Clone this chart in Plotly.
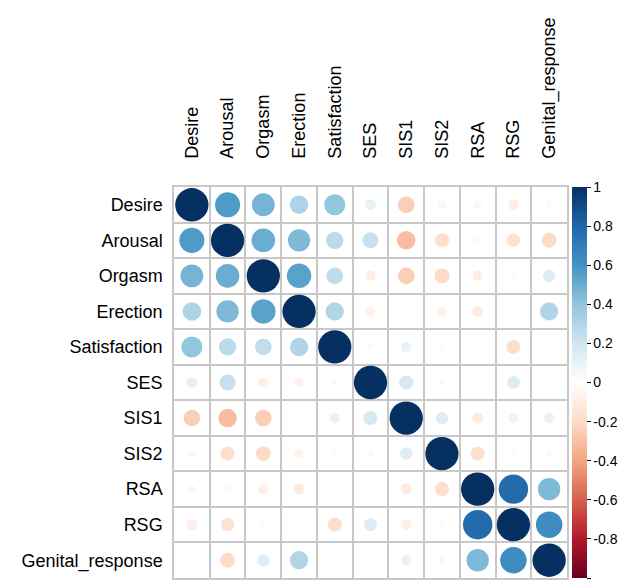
import numpy as np
import plotly.graph_objects as go

labels = ["Desire", "Arousal", "Orgasm", "Erection", "Satisfaction", "SES",
          "SIS1", "SIS2", "RSA", "RSG", "Genital_response"]

desire       = [1.00, 0.57, 0.47, 0.31, 0.40, 0.11, -0.25, 0.05, -0.05, -0.10, 0.03]
arousal      = [0.57, 1.00, 0.50, 0.45, 0.27, 0.23, -0.31, -0.18, -0.04, -0.16, -0.20]
orgasm       = [0.47, 0.50, 1.00, 0.54, 0.25, -0.09, -0.25, -0.20, -0.09, -0.03, 0.14]
erection     = [0.31, 0.45, 0.54, 1.00, 0.30, -0.08, 0.01, -0.08, -0.11, 0.01, 0.30]
satisfaction = [0.40, 0.27, 0.25, 0.30, 1.00, -0.04, 0.10, -0.03, -0.02, -0.18, 0.01]
ses          = [0.11, 0.23, -0.09, -0.08, -0.04, 1.00, 0.18, 0.04, 0.02, 0.15, 0.00]
sis1         = [-0.25, -0.31, -0.25, 0.01, 0.10, 0.18, 1.00, 0.14, -0.11, -0.09, 0.10]
sis2         = [0.05, -0.18, -0.20, -0.08, -0.03, 0.04, 0.14, 1.00, -0.18, -0.03, 0.04]
rsa          = [-0.05, -0.04, -0.09, -0.11, -0.02, 0.02, -0.11, -0.18, 1.00, 0.78, 0.45]
rsg          = [-0.10, -0.16, -0.03, 0.01, -0.18, 0.15, -0.09, -0.03, 0.78, 1.00, 0.63]
genital      = [0.03, -0.20, 0.14, 0.30, 0.01, 0.00, 0.10, 0.04, 0.45, 0.63, 1.00]

rows = [desire, arousal, orgasm, erection, satisfaction, ses, sis1, sis2, rsa, rsg, genital]

cb_ticks = [1, 0.8, 0.6, 0.4, 0.2, 0, -0.2, -0.4, -0.6, -0.8, -1]
cb_text = ["1", "0.8", "0.6", "0.4", "0.2", "0", "-0.2", "-0.4", "-0.6", "-0.8", "-1"]

rdbu = ["#67001F", "#B2182B", "#D6604D", "#F4A582", "#FDDBC7", "#FFFFFF",
        "#D1E5F0", "#92C5DE", "#4393C3", "#2166AC", "#053061"]
colorscale = [[i / 10, c] for i, c in enumerate(rdbu)]

M = np.array(rows)
n = len(labels)
idx = list(range(n))
xs, ys, vs = [], [], []
for i in range(n):
    for j in range(n):
        xs.append(j)
        ys.append(i)
        vs.append(M[i, j])
vs = np.array(vs)
sizes = 33.3 * np.sqrt(np.abs(vs))

fig = go.Figure()
fig.add_trace(go.Scatter(
    x=xs, y=ys, mode="markers",
    marker=dict(
        size=sizes, color=vs, cmin=-1, cmax=1, colorscale=colorscale,
        line=dict(width=0), opacity=1,
        colorbar=dict(
            x=1.0127, xanchor="left", xpad=0, y=0.5, yanchor="middle", ypad=0,
            len=1, lenmode="fraction", thickness=15, thicknessmode="pixels",
            outlinewidth=0,
            tickmode="array", tickvals=cb_ticks, ticktext=cb_text,
            ticks="outside", ticklen=4, tickcolor="black", tickwidth=1,
            tickfont=dict(size=14, color="black"),
        ),
    ),
    hoverinfo="skip", showlegend=False,
))

gridc = "rgb(200,200,200)"
common = dict(
    showgrid=False, zeroline=False,
    showline=True, mirror=True, linecolor=gridc, linewidth=1.5,
    minor=dict(tickmode="linear", tick0=0.5, dtick=1, showgrid=True,
               gridcolor=gridc, gridwidth=1.5, ticks=""),
    ticks="", tickmode="array", tickvals=idx, ticktext=labels,
    tickfont=dict(size=18, color="black"),
)
fig.update_xaxes(range=[-0.5, n - 0.5], side="top", tickangle=-90,
                 ticklabelstandoff=23, **common)
fig.update_yaxes(range=[n - 0.5, -0.5], ticklabelstandoff=6, **common)
fig.update_layout(
    width=618, height=582,
    margin=dict(l=174, r=51, t=187, b=4, autoexpand=False),
    paper_bgcolor="white", plot_bgcolor="white",
    font=dict(family="Arial, Liberation Sans, sans-serif", color="black"),
)
fig.write_html(
    "out.html",
    config={"displayModeBar": False},
    post_script="document.body.style.margin='0';document.body.style.overflow='hidden';",
)
